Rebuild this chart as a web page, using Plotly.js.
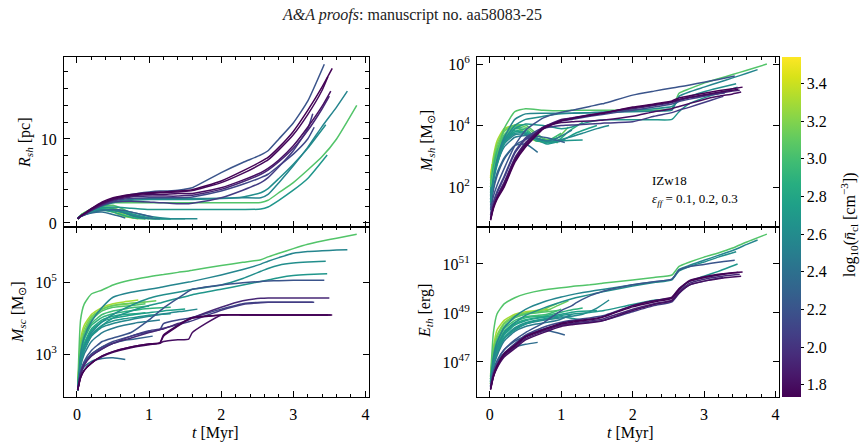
<!DOCTYPE html>
<html>
<head>
<meta charset="utf-8">
<script src="https://cdn.plot.ly/plotly-3.0.1.min.js"></script>
<style>
  html, body { margin: 0; padding: 0; background: #fff; }
  #chart { width: 862px; height: 448px; }
</style>
</head>
<body>
<div id="chart"></div>
<script>
// ---------------------------------------------------------------------------
// Shell evolution of IZw18 cloud models (eps_ff = 0.1, 0.2, 0.3).
// Each run: log10 of mean cloud density, time samples [Myr], and four tracks:
// shell radius [pc], log10 star-cluster mass, log10 shell mass, log10 thermal energy.
// ---------------------------------------------------------------------------

// colour range of the density colour bar
const densityMin = 1.735;
const densityMax = 3.54;
const densityTicks = [1.8, 2.0, 2.2, 2.4, 2.6, 2.8, 3.0, 3.2, 3.4];

// common sampling of the long-lived runs
const tLong = [0.01, 0.05, 0.1, 0.2, 0.35, 0.5, 0.75, 1.0, 1.15, 1.2, 1.4, 1.55, 1.6, 2.0, 2.3, 2.55, 2.65, 2.8, 3.0, 3.2];

// log10(mean cloud density) of every run
const runDensity = [
  3.52, 3.42, 3.30, 3.20, 3.12, 3.05, 2.98, 2.90, 2.82, 2.75, 2.68, 2.58, 2.38, 2.28, 2.48,
  3.05, 2.68, 2.62, 2.55, 2.20, 2.12, 2.05, 1.93, 1.80, 1.77, 1.74
];

// time samples of every run [Myr]
const runTimes = [
  [0.01, 0.02, 0.03],
  [0.01, 0.02, 0.03],
  [0.01, 0.05, 0.1, 0.2, 0.35, 0.5, 0.65, 0.85],
  [0.01, 0.05, 0.1, 0.2, 0.35, 0.5, 0.65, 0.8, 0.95],
  [0.01, 0.05, 0.1, 0.2, 0.35, 0.5, 0.65, 0.8, 0.95, 1.1],
  [0.01, 0.05, 0.1, 0.2, 0.35, 0.5, 0.65, 0.8, 0.95],
  [0.01, 0.05, 0.1, 0.2, 0.35, 0.5, 0.65, 0.8, 1.0],
  [0.01, 0.05, 0.1, 0.2, 0.35, 0.5, 0.65, 0.8, 0.95, 1.1, 1.3],
  [0.01, 0.05, 0.1, 0.2, 0.35, 0.5, 0.65, 0.8, 0.95],
  [0.01, 0.05, 0.1, 0.2, 0.35, 0.5, 0.65, 0.8, 1.0, 1.2, 1.5],
  [0.01, 0.05, 0.1, 0.2, 0.35, 0.5, 0.65, 0.8, 1.0, 1.3],
  [0.01, 0.05, 0.1, 0.2, 0.35, 0.5, 0.65, 0.8, 1.0, 1.3, 1.5, 1.67],
  [0.01, 0.05, 0.1, 0.2, 0.35, 0.5, 0.67],
  [0.01, 0.05, 0.1, 0.2, 0.35, 0.5, 0.65, 0.8, 1.05],
  [0.01, 0.05, 0.1, 0.2, 0.35, 0.5, 0.65, 0.8, 0.95, 1.15],
  tLong.concat([3.4, 3.6, 3.88]),
  tLong.concat([3.47]),
  tLong.concat([3.45]),
  tLong.concat([3.4, 3.6, 3.75]),
  tLong.concat([3.43]),
  tLong.concat([3.29]),
  tLong.concat([3.27]),
  tLong.concat([3.4, 3.5]),
  tLong.concat([3.4, 3.52]),
  tLong.concat([3.4, 3.48]),
  tLong.concat([3.4, 3.54])
];

// shell radius R_sh [pc]
const shellRadius = [
  [0.5, 0.55, 0.6],
  [0.5, 0.55, 0.58],
  [0.5, 0.9, 1.2, 1.5, 1.6, 1.3, 0.8, 0.5],
  [0.5, 0.9, 1.2, 1.5, 1.7, 1.5, 1.0, 0.6, 0.5],
  [0.5, 0.9, 1.2, 1.6, 1.9, 1.8, 1.3, 0.8, 0.55, 0.5],
  [0.5, 0.9, 1.2, 1.6, 2.0, 2.1, 1.6, 0.9, 0.5],
  [0.5, 0.85, 1.15, 1.5, 1.8, 1.7, 1.2, 0.7, 0.5],
  [0.5, 0.85, 1.1, 1.45, 1.7, 1.6, 1.2, 0.8, 0.55, 0.5, 0.5],
  [0.5, 0.8, 1.05, 1.35, 1.5, 1.3, 0.9, 0.6, 0.5],
  [0.5, 0.8, 1.05, 1.4, 1.6, 1.55, 1.3, 0.9, 0.55, 0.5, 0.5],
  [0.5, 0.8, 1.0, 1.3, 1.5, 1.45, 1.3, 1.0, 0.6, 0.5],
  [0.5, 0.8, 1.0, 1.3, 1.55, 1.6, 1.45, 1.2, 0.8, 0.5, 0.5, 0.5],
  [0.5, 0.75, 0.95, 1.2, 1.3, 1.0, 0.6],
  [0.5, 0.75, 0.95, 1.25, 1.5, 1.6, 1.5, 1.2, 0.7],
  [0.5, 0.8, 1.0, 1.3, 1.55, 1.5, 1.2, 0.8, 0.55, 0.5],
  [0.5, 0.9, 1.2, 1.7, 2.2, 2.4, 2.4, 2.4, 2.4, 2.4, 2.4, 2.4, 2.4, 2.4, 2.4, 2.45, 2.7, 3.6, 4.8, 6.3, 7.9, 10.0, 14.0],
  [0.5, 0.8, 1.0, 1.4, 1.8, 1.9, 1.75, 1.6, 1.6, 1.6, 1.6, 1.6, 1.6, 1.6, 1.6, 1.65, 1.9, 2.7, 3.9, 5.3, 8.1],
  [0.5, 0.8, 1.0, 1.5, 2.0, 2.4, 2.7, 2.8, 2.8, 2.8, 2.8, 2.8, 2.8, 2.9, 3.1, 3.6, 4.1, 5.3, 7.0, 8.9, 11.7],
  [0.5, 0.8, 1.0, 1.5, 2.1, 2.5, 2.8, 2.9, 2.9, 2.9, 2.9, 2.9, 2.9, 2.95, 3.0, 3.0, 3.4, 4.8, 6.8, 9.0, 11.5, 13.8, 15.7],
  [0.5, 0.8, 1.1, 1.6, 2.3, 2.9, 3.4, 3.7, 3.8, 3.8, 3.9, 4.1, 4.2, 6.0, 7.2, 8.1, 8.6, 10.0, 11.9, 14.5, 18.9],
  [0.5, 0.8, 1.0, 1.5, 2.1, 2.6, 2.9, 3.0, 3.0, 3.0, 3.0, 3.05, 3.1, 3.8, 4.6, 5.4, 5.8, 6.8, 8.2, 10.0, 11.4],
  [0.5, 0.8, 1.0, 1.5, 2.1, 2.5, 2.6, 2.5, 2.4, 2.4, 2.3, 2.3, 2.35, 3.0, 3.9, 4.8, 5.4, 6.7, 8.6, 11.2, 13.0],
  [0.5, 0.8, 1.0, 1.5, 2.2, 2.7, 3.1, 3.2, 3.2, 3.2, 3.2, 3.3, 3.3, 4.0, 4.9, 5.8, 6.3, 7.3, 8.9, 11.0, 13.6, 15.1],
  [0.5, 0.8, 1.1, 1.6, 2.3, 2.8, 3.2, 3.4, 3.4, 3.4, 3.5, 3.5, 3.5, 4.2, 5.1, 6.0, 6.5, 7.5, 9.2, 11.4, 13.9, 15.7],
  [0.5, 0.8, 1.1, 1.7, 2.4, 2.9, 3.3, 3.5, 3.6, 3.6, 3.7, 3.8, 3.85, 4.8, 5.9, 7.0, 7.5, 8.7, 10.5, 12.9, 15.8, 17.4],
  [0.5, 0.8, 1.1, 1.7, 2.5, 3.0, 3.4, 3.6, 3.7, 3.7, 3.8, 3.9, 3.95, 5.0, 6.2, 7.3, 7.8, 9.0, 10.9, 13.4, 16.2, 18.4]
];

// log10 of star-cluster mass M_sc [Msun]
const logClusterMass = [
  [2.0, 2.4, 2.72],
  [2.0, 2.3, 2.6],
  [2.0, 3.4, 3.8, 4.1, 4.3, 4.4, 4.45, 4.5],
  [2.0, 3.3, 3.7, 4.05, 4.25, 4.35, 4.38, 4.42, 4.45],
  [2.0, 3.2, 3.6, 4.0, 4.25, 4.35, 4.4, 4.42, 4.45, 4.48],
  [2.0, 3.1, 3.55, 3.95, 4.2, 4.3, 4.33, 4.36, 4.4],
  [2.0, 3.0, 3.45, 3.85, 4.1, 4.2, 4.25, 4.3, 4.33],
  [2.0, 2.95, 3.4, 3.8, 4.02, 4.12, 4.18, 4.22, 4.26, 4.28, 4.3],
  [2.0, 2.9, 3.3, 3.7, 3.95, 4.05, 4.1, 4.12, 4.15],
  [2.0, 2.85, 3.25, 3.65, 3.9, 4.0, 4.05, 4.1, 4.15, 4.2, 4.25],
  [2.0, 2.8, 3.2, 3.55, 3.8, 3.92, 3.98, 4.02, 4.08, 4.12],
  [2.0, 2.75, 3.1, 3.5, 3.75, 3.85, 3.92, 3.98, 4.05, 4.15, 4.2, 4.25],
  [2.0, 2.45, 2.65, 2.8, 2.88, 2.9, 2.85],
  [2.0, 2.5, 2.75, 3.0, 3.2, 3.3, 3.38, 3.42, 3.5],
  [2.0, 2.65, 3.0, 3.35, 3.6, 3.72, 3.8, 3.86, 3.9, 3.95],
  [2.0, 3.95, 4.39, 4.67, 4.78, 4.92, 5.06, 5.15, 5.2, 5.21, 5.27, 5.31, 5.33, 5.46, 5.55, 5.62, 5.7, 5.8, 5.93, 6.05, 6.14, 6.22, 6.33],
  [2.0, 2.7, 3.1, 3.5, 3.8, 4.0, 4.2, 4.35, 4.42, 4.45, 4.55, 4.62, 4.65, 4.8, 4.92, 5.02, 5.06, 5.12, 5.18, 5.21, 5.23],
  [2.0, 2.8, 3.2, 3.6, 3.9, 4.1, 4.35, 4.55, 4.63, 4.65, 4.72, 4.78, 4.8, 4.92, 5.1, 5.3, 5.38, 5.47, 5.53, 5.56, 5.58],
  [2.0, 3.0, 3.47, 3.9, 4.3, 4.58, 4.72, 4.8, 4.85, 4.87, 4.95, 5.0, 5.02, 5.2, 5.35, 5.5, 5.58, 5.68, 5.8, 5.85, 5.87, 5.89, 5.9],
  [2.0, 2.5, 2.8, 3.1, 3.35, 3.45, 3.6, 3.95, 4.2, 4.28, 4.55, 4.75, 4.8, 4.92, 4.98, 5.02, 5.03, 5.04, 5.05, 5.05, 5.05],
  [2.0, 2.5, 2.75, 3.0, 3.2, 3.35, 3.5, 3.62, 3.68, 3.85, 3.95, 4.0, 4.02, 4.25, 4.4, 4.44, 4.44, 4.44, 4.44, 4.44, 4.44],
  [2.0, 2.45, 2.7, 2.95, 3.15, 3.3, 3.5, 3.65, 3.7, 3.72, 3.82, 3.9, 3.93, 4.22, 4.38, 4.43, 4.44, 4.44, 4.44, 4.44, 4.44],
  [2.0, 2.45, 2.7, 2.95, 3.15, 3.3, 3.45, 3.6, 3.68, 3.7, 3.85, 3.95, 4.0, 4.3, 4.48, 4.55, 4.56, 4.56, 4.56, 4.56, 4.56, 4.56],
  [2.0, 2.35, 2.55, 2.75, 2.93, 3.05, 3.18, 3.26, 3.3, 3.35, 3.4, 3.42, 3.6, 4.08, 4.09, 4.09, 4.09, 4.09, 4.09, 4.09, 4.09, 4.09],
  [2.0, 2.35, 2.55, 2.75, 2.95, 3.07, 3.2, 3.28, 3.31, 3.5, 3.78, 3.97, 4.0, 4.09, 4.09, 4.09, 4.09, 4.09, 4.09, 4.09, 4.09, 4.09],
  [2.0, 2.35, 2.55, 2.75, 2.95, 3.07, 3.2, 3.28, 3.31, 3.53, 3.8, 3.98, 4.02, 4.09, 4.09, 4.09, 4.09, 4.09, 4.09, 4.09, 4.09, 4.09]
];

// log10 of shell mass M_sh [Msun]
const logShellMass = [
  [2.35, 2.55, 2.75],
  [2.3, 2.5, 2.65],
  [2.3, 3.0, 3.5, 3.9, 4.0, 3.7, 3.5, 3.45],
  [2.2, 2.9, 3.4, 3.85, 4.0, 3.75, 3.55, 3.5, 3.45],
  [2.1, 2.8, 3.3, 3.8, 4.02, 3.95, 3.7, 3.55, 3.6, 3.95],
  [2.0, 2.7, 3.2, 3.7, 4.0, 4.02, 3.75, 3.5, 3.45],
  [2.0, 2.65, 3.15, 3.65, 3.95, 3.9, 3.6, 3.5, 3.75],
  [1.9, 2.6, 3.1, 3.6, 3.9, 3.85, 3.6, 3.45, 3.5, 3.8, 4.1],
  [1.85, 2.55, 3.0, 3.55, 3.85, 3.75, 3.5, 3.5, 3.6],
  [1.8, 2.5, 2.95, 3.5, 3.8, 3.8, 3.6, 3.45, 3.5, 3.75, 4.0],
  [1.75, 2.45, 2.9, 3.45, 3.75, 3.75, 3.55, 3.4, 3.5, 3.53],
  [1.7, 2.4, 2.85, 3.4, 3.7, 3.72, 3.6, 3.5, 3.55, 3.75, 3.9, 4.0],
  [1.4, 2.0, 2.45, 2.95, 3.35, 3.4, 3.13],
  [1.3, 1.9, 2.35, 2.9, 3.35, 3.55, 3.65, 3.6, 3.45],
  [1.6, 2.3, 2.75, 3.3, 3.62, 3.68, 3.58, 3.5, 3.6, 3.85],
  [2.0, 2.5, 3.0, 3.9, 4.45, 4.55, 4.5, 4.48, 4.5, 4.5, 4.5, 4.5, 4.5, 4.5, 4.5, 4.55, 5.05, 5.2, 5.38, 5.52, 5.66, 5.8, 6.0],
  [1.5, 2.2, 2.7, 3.4, 3.9, 4.05, 4.0, 3.9, 3.95, 4.0, 4.12, 4.18, 4.19, 4.19, 4.19, 4.2, 4.45, 4.72, 4.9, 5.05, 5.25],
  [1.5, 2.2, 2.8, 3.5, 4.0, 4.2, 4.3, 4.38, 4.4, 4.4, 4.42, 4.43, 4.44, 4.5, 4.55, 4.62, 4.8, 4.95, 5.1, 5.22, 5.36],
  [1.6, 2.3, 2.9, 3.6, 4.2, 4.38, 4.4, 4.4, 4.4, 4.41, 4.42, 4.43, 4.43, 4.45, 4.47, 4.5, 4.95, 5.1, 5.25, 5.4, 5.55, 5.7, 5.82],
  [1.24, 1.7, 2.05, 2.6, 3.35, 3.85, 4.25, 4.43, 4.5, 4.52, 4.62, 4.7, 4.72, 4.99, 5.12, 5.22, 5.26, 5.32, 5.41, 5.5, 5.61],
  [1.1, 1.5, 1.85, 2.35, 3.15, 3.6, 3.95, 4.15, 4.2, 4.22, 4.3, 4.35, 4.37, 4.5, 4.6, 4.7, 4.78, 4.86, 4.95, 5.03, 5.06],
  [1.1, 1.5, 1.8, 2.3, 3.1, 3.55, 3.9, 4.0, 4.02, 4.02, 4.05, 4.07, 4.08, 4.12, 4.3, 4.42, 4.5, 4.6, 4.75, 4.9, 4.95],
  [1.0, 1.4, 1.7, 2.15, 2.95, 3.45, 3.95, 4.2, 4.25, 4.27, 4.35, 4.4, 4.42, 4.55, 4.65, 4.75, 4.82, 4.9, 4.98, 5.05, 5.12, 5.15],
  [0.95, 1.35, 1.65, 2.1, 2.9, 3.4, 3.95, 4.1, 4.12, 4.13, 4.15, 4.17, 4.18, 4.3, 4.45, 4.55, 4.62, 4.72, 4.85, 4.95, 5.03, 5.09],
  [0.95, 1.35, 1.65, 2.05, 2.85, 3.35, 3.92, 4.17, 4.24, 4.26, 4.34, 4.4, 4.42, 4.58, 4.68, 4.77, 4.85, 4.92, 5.0, 5.08, 5.15, 5.18],
  [0.92, 1.3, 1.6, 2.0, 2.8, 3.3, 3.89, 4.15, 4.22, 4.25, 4.33, 4.38, 4.4, 4.6, 4.7, 4.8, 4.9, 4.97, 5.05, 5.13, 5.2, 5.25]
];

// log10 of thermal energy E_th [erg]
const logThermalEnergy = [
  [46.1, 46.35, 46.55],
  [46.1, 46.3, 46.5],
  [46.5, 47.6, 48.3, 48.7, 48.95, 49.05, 49.1, 49.15],
  [46.4, 47.5, 48.1, 48.6, 48.9, 49.0, 49.05, 49.2, 49.4],
  [46.3, 47.4, 48.0, 48.55, 48.85, 48.98, 49.05, 49.1, 49.3, 49.5],
  [46.3, 47.3, 47.9, 48.45, 48.8, 48.95, 49.0, 49.05, 49.1],
  [46.25, 47.2, 47.8, 48.35, 48.7, 48.85, 48.9, 48.95, 49.15],
  [46.2, 47.1, 47.7, 48.25, 48.62, 48.8, 48.85, 48.9, 49.0, 49.1, 49.2],
  [46.2, 47.0, 47.6, 48.15, 48.55, 48.72, 48.8, 48.85, 48.9],
  [46.15, 46.95, 47.5, 48.1, 48.5, 48.68, 48.78, 48.85, 48.95, 49.05, 49.1],
  [46.1, 46.9, 47.4, 48.0, 48.4, 48.6, 48.7, 48.75, 48.85, 48.7],
  [46.1, 46.85, 47.35, 47.95, 48.35, 48.55, 48.65, 48.72, 48.8, 48.95, 49.2, 49.53],
  [46.0, 46.6, 47.0, 47.35, 47.6, 47.72, 47.8],
  [46.0, 46.65, 47.05, 47.5, 47.85, 48.05, 48.2, 48.28, 48.1],
  [46.05, 46.8, 47.25, 47.85, 48.25, 48.45, 48.55, 48.62, 48.7, 48.95],
  [46.4, 48.2, 48.96, 49.37, 49.62, 49.78, 49.94, 50.03, 50.08, 50.1, 50.15, 50.2, 50.22, 50.35, 50.45, 50.55, 50.9, 51.08, 51.28, 51.45, 51.65, 51.9, 52.22],
  [46.2, 46.9, 47.4, 47.95, 48.3, 48.55, 48.75, 48.9, 48.95, 48.97, 49.02, 49.08, 49.1, 49.35, 49.52, 49.62, 49.95, 50.3, 50.5, 50.7, 51.0],
  [46.2, 47.0, 47.6, 48.2, 48.6, 48.9, 49.2, 49.45, 49.58, 49.62, 49.75, 49.85, 49.88, 50.1, 50.24, 50.35, 50.72, 50.9, 51.08, 51.28, 51.5],
  [46.3, 47.2, 47.8, 48.4, 48.85, 49.15, 49.45, 49.65, 49.75, 49.78, 49.88, 49.95, 49.97, 50.15, 50.27, 50.38, 50.78, 50.95, 51.15, 51.35, 51.55, 51.8, 51.98],
  [46.0, 46.6, 47.0, 47.5, 47.9, 48.2, 48.6, 49.1, 49.3, 49.4, 49.7, 49.85, 49.9, 50.15, 50.28, 50.38, 50.75, 50.9, 50.98, 51.07, 51.15],
  [46.0, 46.55, 46.9, 47.35, 47.75, 48.1, 48.42, 48.62, 48.7, 48.72, 48.8, 48.87, 48.9, 49.3, 49.5, 49.62, 49.98, 50.3, 50.45, 50.55, 50.6],
  [46.0, 46.5, 46.85, 47.3, 47.7, 48.05, 48.35, 48.5, 48.55, 48.57, 48.62, 48.67, 48.7, 49.05, 49.3, 49.45, 49.8, 50.15, 50.3, 50.42, 50.45],
  [45.95, 46.45, 46.8, 47.25, 47.6, 47.95, 48.25, 48.5, 48.57, 48.6, 48.67, 48.73, 48.77, 49.15, 49.38, 49.52, 49.88, 50.22, 50.38, 50.48, 50.55, 50.58],
  [45.9, 46.4, 46.75, 47.2, 47.55, 47.9, 48.2, 48.45, 48.52, 48.54, 48.6, 48.66, 48.7, 49.1, 49.35, 49.5, 49.82, 50.15, 50.3, 50.4, 50.47, 50.5],
  [45.9, 46.45, 46.85, 47.35, 47.7, 48.05, 48.33, 48.58, 48.66, 48.68, 48.75, 48.82, 48.86, 49.3, 49.5, 49.65, 50.0, 50.33, 50.48, 50.58, 50.64, 50.66],
  [45.86, 46.4, 46.8, 47.3, 47.65, 48.02, 48.3, 48.55, 48.62, 48.65, 48.72, 48.8, 48.85, 49.25, 49.45, 49.6, 49.95, 50.3, 50.45, 50.55, 50.63, 50.67]
];

// ---------------------------------------------------------------------------
// viridis lookup for the line colours (same stops as Plotly's 'Viridis')
const viridisStops = [
  [0, '#440154'], [0.0627, '#48186a'], [0.1255, '#472d7b'], [0.1882, '#424086'],
  [0.2510, '#3b528b'], [0.3137, '#33638d'], [0.3765, '#2c728e'], [0.4392, '#26828e'],
  [0.5020, '#21918c'], [0.5647, '#1fa088'], [0.6275, '#28ae80'], [0.6902, '#3fbc73'],
  [0.7529, '#5ec962'], [0.8157, '#84d44b'], [0.8784, '#addc30'], [0.9412, '#d8e219'],
  [1, '#fde725']
];
function hexRgb(h) { return [1, 3, 5].map(i => parseInt(h.slice(i, i + 2), 16)); }
function densityColour(v) {
  const f = Math.min(1, Math.max(0, (v - densityMin) / (densityMax - densityMin)));
  for (let i = 1; i < viridisStops.length; i++) {
    if (f <= viridisStops[i][0]) {
      const [f0, c0] = viridisStops[i - 1], [f1, c1] = viridisStops[i];
      const w = (f - f0) / (f1 - f0), a = hexRgb(c0), b = hexRgb(c1);
      return 'rgb(' + a.map((x, k) => Math.round(x + w * (b[k] - x))).join(',') + ')';
    }
  }
  return viridisStops[viridisStops.length - 1][1];
}

// ---------------------------------------------------------------------------
const panels = [
  { xa: 'x',  ya: 'y',  values: shellRadius,      log: false },
  { xa: 'x2', ya: 'y2', values: logShellMass,     log: true },
  { xa: 'x3', ya: 'y3', values: logClusterMass,   log: true },
  { xa: 'x4', ya: 'y4', values: logThermalEnergy, log: true }
];

const traces = [];
panels.forEach(p => {
  runDensity.forEach((n, i) => {
    traces.push({
      type: 'scatter', mode: 'lines',
      x: runTimes[i],
      y: p.log ? p.values[i].map(v => Math.pow(10, v)) : p.values[i],
      xaxis: p.xa, yaxis: p.ya,
      line: { color: densityColour(n), width: 1.5, shape: 'spline', smoothing: 0.5 },
      hoverinfo: 'skip', showlegend: false
    });
  });
});

const FONT = 'Liberation Serif, serif';

// colour bar carrier (no visible points)
traces.push({
  type: 'scatter', mode: 'markers', x: [null], y: [null], xaxis: 'x', yaxis: 'y',
  showlegend: false, hoverinfo: 'skip',
  marker: {
    color: [densityMin], cmin: densityMin, cmax: densityMax, colorscale: 'Viridis',
    showscale: true,
    colorbar: {
      x: 782 / 862, xanchor: 'left', xref: 'paper', xpad: 0,
      y: 1 - 227 / 448, yanchor: 'middle', yref: 'paper', ypad: 0,
      len: 340 / 448, lenmode: 'fraction',
      thickness: 19, thicknessmode: 'pixels',
      outlinewidth: 0, ticks: 'outside', ticklen: 3, tickcolor: '#000',
      tickvals: densityTicks, tickformat: '.1f',
      tickfont: { family: FONT, size: 16, color: '#000' }
    }
  }
});

const baseAxis = {
  showline: true, linecolor: '#000', linewidth: 1, mirror: 'allticks',
  ticks: 'inside', ticklen: 6, tickwidth: 1, tickcolor: '#000',
  showgrid: false, zeroline: false,
  tickfont: { family: FONT, size: 16, color: '#000' }
};
function xAxis(domain, anchor, labels) {
  return Object.assign({}, baseAxis, {
    domain: domain, anchor: anchor, range: [-0.18, 4.05],
    tick0: 0, dtick: 1, showticklabels: labels, ticklabelstandoff: 3,
    minor: { ticks: 'inside', ticklen: 3, tickcolor: '#000', tick0: 0, dtick: 0.2, showgrid: false }
  });
}
function logAxis(domain, anchor, range, exps) {
  return Object.assign({}, baseAxis, {
    domain: domain, anchor: anchor, type: 'log', range: range,
    tickvals: exps.map(e => Math.pow(10, e)),
    ticktext: exps.map(e => '10<sup>' + e + '</sup>'),
    ticklabelstandoff: 3
  });
}

const colL = [64 / 862, 369 / 862], colR = [477 / 862, 779 / 862];
const rowT = [1 - 227 / 448, 1 - 57 / 448], rowB = [1 - 397 / 448, 1 - 227 / 448];

function ann(text, px, py, opts) {
  return Object.assign({
    text: text, x: px / 862, y: 1 - py / 448, xref: 'paper', yref: 'paper',
    showarrow: false, xanchor: 'center', yanchor: 'middle',
    font: { family: FONT, size: 16, color: '#000' }
  }, opts || {});
}

const layout = {
  width: 862, height: 448,
  margin: { l: 0, r: 0, t: 0, b: 0 },
  paper_bgcolor: '#fff', plot_bgcolor: '#fff',
  showlegend: false,
  font: { family: FONT, size: 15, color: '#000' },
  xaxis:  xAxis(colL, 'y', false),
  yaxis:  Object.assign({}, baseAxis, {
    domain: rowT, anchor: 'x', range: [-0.48, 19.76],
    tickvals: [0, 10], ticklabelstandoff: 3,
    minor: { ticks: 'inside', ticklen: 4, tickcolor: '#000', tick0: 0, dtick: 2, showgrid: false }
  }),
  xaxis2: xAxis(colR, 'y2', false),
  yaxis2: logAxis(rowT, 'x2', [0.7, 6.23], [2, 4, 6]),
  xaxis3: xAxis(colL, 'y3', true),
  yaxis3: logAxis(rowB, 'x3', [1.81, 6.53], [3, 5]),
  xaxis4: xAxis(colR, 'y4', true),
  yaxis4: logAxis(rowB, 'x4', [45.57, 52.51], [47, 49, 51]),
  annotations: [
    ann('<i>A&amp;A proofs</i>: manuscript no. aa58083-25', 412, 15, { font: { family: FONT, size: 16, color: '#222' } }),
    ann('<i>R<sub>sh</sub></i> [pc]', 25, 143, { textangle: -90 }),
    ann('<i>M<sub>sc</sub></i> [M<sub>⊙</sub>]', 18, 312, { textangle: -90 }),
    ann('<i>M<sub>sh</sub></i> [M<sub>⊙</sub>]', 428, 141, { textangle: -90 }),
    ann('<i>E<sub>th</sub></i> [erg]', 425, 311, { textangle: -90 }),
    ann('<i>t</i> [Myr]', 215, 433),
    ann('<i>t</i> [Myr]', 630, 433),
    ann('log<sub>10</sub>(<i>n̄</i><sub>cl</sub> [cm<sup>−3</sup>])', 849, 225, { textangle: -90 }),
    ann('IZw18', 650, 180, { xanchor: 'left', font: { family: FONT, size: 13, color: '#000' } }),
    ann('<i>ε<sub>ff</sub></i> = 0.1, 0.2, 0.3', 650, 199, { xanchor: 'left', font: { family: FONT, size: 13, color: '#000' } })
  ]
};

Plotly.newPlot('chart', traces, layout, { staticPlot: true, displayModeBar: false });
</script>
</body>
</html>
